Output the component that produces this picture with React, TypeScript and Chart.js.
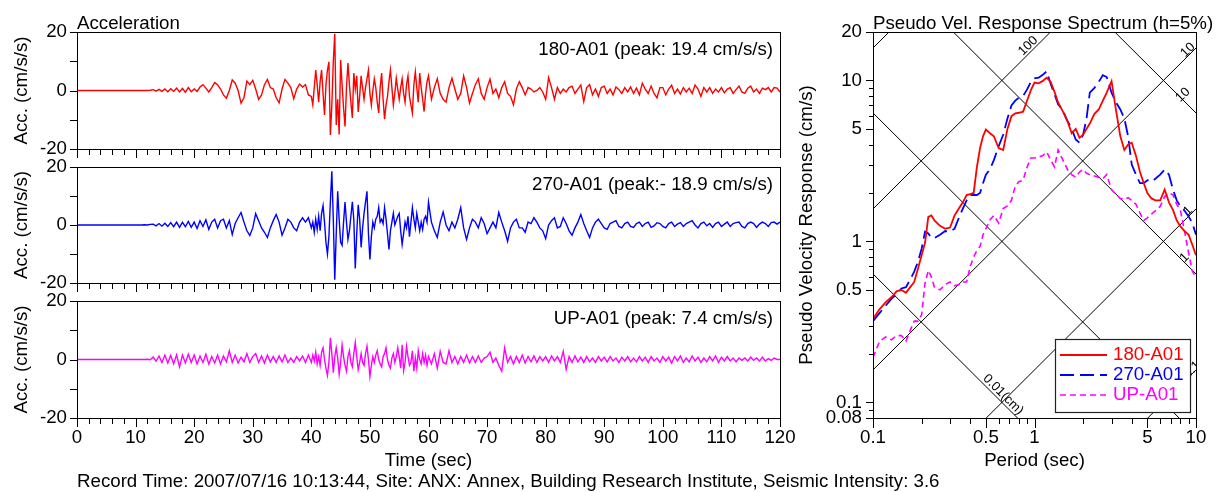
import React, { useEffect, useRef } from "react";
import { Chart, registerables } from "chart.js";

Chart.register(...registerables);

const W = 1225;
const H = 492;
const FAMILY = '"Liberation Sans", Arial, Helvetica, sans-serif';
const FS = 18.7;
const FONT = `${FS}px ${FAMILY}`;
const SMALL_FONT = `13px ${FAMILY}`;

// ---------------- Acceleration time histories ----------------
const TIME_MIN = 0;
const TIME_MAX = 120;
const TIME_LABEL_TICKS = [0, 10, 20, 30, 40, 50, 60, 70, 80, 90, 100, 110, 120];
const TIME_MINOR_STEP = 2;
const ACC_TICKS = [-20, -10, 0, 10, 20];
const ACC_LABELS = [-20, 0, 20];

// sampling segments (s)
const EARLY_START = 10, EARLY_STEP = 0.5;   // 10 - 39.5 s
const STRONG_START = 40, STRONG_STEP = 0.25; // 40 - 59.75 s
const LATE_START = 60, LATE_STEP = 0.5;     // 60 - 120 s

// 180-A01 (cm/s/s)
const acc180Early = [
  0, 0, 0, 0, 0, 0.1,
  0.3, -0.2, 0.4, -0.3, 0.5, -0.4, 0.6, -0.3, 0.8, -0.5, 0.7, -0.6, 1.0, -0.4,
  0.5, -0.3, 1.2, 2.0, 0.8, -0.5, 1.0, 2.7, 2.0, 0.5,
  -1.5, -2.6, 0.0, 3.6, 2.5, 0.0, -4.3, -2.5, 3.2, 2.0,
  3.5, 0.5, -3.0, -1.5, 2.0, 3.8, 1.0, 0.5, -2.5, -4.2,
  0.5, 3.8, 2.5, 1.0, -2.8, 0.5, 2.2, 1.2, 2.0, -1.5,
];
const acc180Strong = [
  -2.0, -4.9, 1.0, 7.0, 2.0, -4.0, 3.0, 7.0, -1.0, -8.4, 2.0, 7.0, 9.8, -15.2, -5.0, 10.0,
  19.4, -11.8, -3.0, -15.0, 10.4, 2.0, -6.0, -12.3, 1.0, 9.4, 2.0, -4.0, -9.4, 6.0, 0.5, 5.0,
  -7.3, -2.0, 5.0, 1.0, -3.0, 1.0, 4.0, 7.0, -1.0, -5.0, 0.0, 4.0, 1.0, -4.0, -7.7, 1.0,
  6.0, -3.0, -9.8, -5.0, -2.0, 3.0, 7.0, 1.0, -5.0, -1.0, 4.2, 0.5, -3.0, 1.0, 4.0, -1.0,
  -4.0, 2.0, 5.0, -2.0, -5.0, -7.7, 2.0, 6.4, 1.0, -4.0, 6.0, 1.0, -3.0, -7.2, -1.0, 3.0,
];
const acc180Late = [
  5.0, -3.0, 1.0, 4.0, -1.0, -3.0, -4.0, 1.0, 4.2, 0.5,
  -3.0, -1.0, 5.0, 1.0, -4.3, -1.0, 2.0, 4.0, -1.0, -3.0,
  1.0, 3.9, -1.0, 0.5, -2.5, 1.0, 3.0, -1.0, -2.0, -4.9,
  0.5, 3.0, 1.0, -1.5, 1.0, 0.5, -0.5, 0.0, 1.0, -0.5,
  -3.0, 4.4, 1.0, -3.0, 1.0, -1.0, 0.5, -0.5, 1.0, 1.5,
  -1.0, 0.5, 1.9, -3.8, 1.0, 2.0, -1.5, 0.5, -2.0, 1.0,
  1.5, -1.0, 0.5, -1.5, 1.2, 0.3, -1.0, 1.0, -0.5, 1.2,
  -1.0, 0.8, -1.5, 2.5, 0.5, -1.0, 1.5, -1.0, -2.5, 1.0,
  1.0, -1.5, 0.5, 1.8, -1.0, 0.5, -1.2, 1.0, -0.5, 0.8,
  -1.0, 1.9, 0.5, -2.0, 1.0, -0.5, 1.0, -1.0, 0.5, -0.5,
  1.0, -0.8, 0.5, 1.0, -1.0, 0.3, 1.5, -0.5, -1.0, 0.8,
  1.5, -0.5, 0.5, -1.0, 0.8, 0.3, 1.0, -0.5, 1.0, 0.8,
  -0.5,
];

// 270-A01 (cm/s/s)
const acc270Early = [
  0, 0, 0, 0.1, 0, 0.2,
  0.3, -0.3, 0.5, -0.4, 0.6, -0.5, 0.8, -0.6, 1.0, -0.8, 0.9, -0.6, 1.2, -0.8,
  1.0, -1.2, 1.5, -0.5, 1.8, -1.5, 1.0, 2.0, -1.0, 1.5,
  2.0, -1.0, 1.5, -3.3, 0.5, 2.5, 4.3, 1.0, -2.0, -3.6,
  -1.0, 3.9, 1.5, -1.0, -2.5, -4.3, -1.0, 1.5, 3.6, 1.0,
  -3.5, -1.0, 2.0, 1.0, -1.0, -2.0, 1.0, 2.5, 1.0, 2.5,
];
const acc270Strong = [
  -1.0, 1.0, -2.5, 2.0, -1.5, 3.0, -2.0, 4.0, 6.7, 1.0, -6.0, -10.0, -4.0, 8.0, 18.5, 2.0,
  -18.9, -3.0, 11.6, 2.0, -6.0, -7.0, 1.0, 7.9, 1.0, -5.0, -2.0, 3.0, 8.0, 2.0, -15.0, -3.0,
  7.0, 2.0, -7.7, -1.0, 4.0, 8.0, 11.6, -3.0, -11.9, -4.0, 1.0, -1.0, 2.0, 3.0, 6.0, 1.0,
  2.0, 0.5, 6.0, 2.0, -3.0, -8.4, -2.0, 1.0, 4.0, 0.0, 1.5, 3.0, 4.0, -2.0, -6.7, -3.0,
  1.0, -1.0, 3.0, -4.0, 1.0, 6.0, 2.0, -1.0, 4.0, 1.0, -2.0, 1.0, -1.5, 2.0, 3.0, 1.0,
];
const acc270Late = [
  7.9, 1.0, -2.0, -4.3, 1.0, 4.5, 0.0, -2.0, 1.0, -1.0,
  2.0, 6.0, -1.0, -5.0, -1.0, 2.0, 1.0, -1.0, 2.5, 0.5,
  -3.0, -1.0, 1.0, -1.0, 4.3, 1.0, -2.0, -5.6, -1.0, 1.0,
  2.0, -1.0, -1.0, -2.5, 1.0, 0.5, 2.5, 1.0, -1.0, -2.0,
  -4.7, 0.0, 1.5, 2.5, -1.0, -0.5, 2.5, 0.5, -2.0, -3.5,
  -1.0, 1.0, 3.6, 0.5, -2.0, -4.3, -1.0, 1.0, 2.0, 0.5,
  -1.0, -1.5, 0.5, 1.0, 1.5, -0.5, -1.0, 0.5, 1.0, -0.5,
  -0.8, 0.5, 1.0, -0.5, 0.5, 1.0, -0.8, -0.3, 0.8, 0.5,
  -0.5, -1.0, 0.5, 1.0, -0.5, 0.3, 0.8, -0.5, 0.5, 1.0,
  1.5, 0.0, -1.0, 0.5, 1.0, -0.3, 0.5, -0.8, 0.5, 1.0,
  -0.5, 0.3, 1.0, -0.5, 0.5, 0.8, 1.0, -0.5, -1.0, 0.5,
  1.0, 0.5, -0.8, 0.3, 1.0, 0.5, -0.5, 0.8, 1.0, 0.3,
  1.0,
];

// UP-A01 (cm/s/s)
const accUpEarly = [
  0, 0, 0, 0, 0.1, -0.1,
  0.8, -0.6, 1.2, -1.0, 1.5, -1.2, 1.4, -1.5, 1.6, -2.5, 1.5, -1.2, 1.8, -1.0,
  1.5, -1.5, 1.2, -1.0, 1.8, -1.6, 1.0, -1.2, 1.5, -1.5,
  1.2, -0.8, 3.0, -1.0, 1.5, -1.2, 0.8, -0.8, 2.0, -1.0,
  1.0, 2.0, -1.0, 1.2, -1.2, 1.5, -0.8, 1.0, -1.0, 1.2,
  -0.8, 1.5, -1.0, 0.5, -1.0, 1.0, -0.5, 1.2, -1.0, 1.5,
];
const accUpStrong = [
  -1.0, 1.5, -0.5, 2.5, -1.5, 1.0, -2.0, 2.5, 4.0, 0.0, -3.0, -5.4, -1.0, 7.4, 2.0, -4.5,
  1.0, 4.0, 0.5, -5.0, -1.0, 5.0, 1.0, -2.0, -4.0, 1.0, 3.0, -1.0, -2.5, 2.0, 5.8, 1.0,
  -3.5, -1.0, 2.0, -1.0, -2.0, 2.0, 4.5, 0.0, -5.8, -2.0, 1.0, -1.0, 1.5, 3.0, 0.0, -1.5,
  -2.5, 1.0, 2.0, 4.0, 0.0, -2.0, -3.0, 0.5, 2.0, -1.0, 1.0, 4.0, 1.0, -3.0, 5.0, -3.8,
  -1.0, 4.5, 1.0, -2.0, -1.0, 3.0, -4.0, 0.5, -3.0, 3.0, 0.0, -1.5, 2.0, -1.0, 1.5, -2.0,
];
const accUpLate = [
  1.0, -1.5, 2.0, -3.0, 2.8, -1.0, -1.5, 3.0, -1.0, 1.0,
  -1.5, 1.0, -1.0, 1.5, -1.2, 1.0, -1.0, 1.2, -1.0, 0.5,
  1.0, 2.5, -1.0, 0.5, -2.0, -4.0, 4.0, -1.0, 1.0, -1.5,
  1.0, -1.0, 1.5, -1.2, 1.0, -0.8, 1.2, -1.0, 1.0, -0.5,
  1.0, -1.0, 1.2, -0.5, 1.0, -1.0, 2.8, -3.4, 1.0, -1.0,
  1.2, -0.8, 0.8, -1.0, 1.0, -0.8, 0.5, -1.0, 1.0, -0.5,
  0.8, -0.8, 1.0, -0.5, 0.5, -1.0, 0.8, -0.5, 1.0, -0.8,
  0.5, -0.8, 1.0, -0.5, 0.8, -1.0, 1.0, -0.5, 0.5, -1.0,
  1.0, -0.5, 0.8, -1.2, 1.0, -0.5, 1.2, -1.0, 0.5, -0.8,
  1.2, -0.5, 0.8, -1.0, 0.5, -0.8, 1.0, -0.5, 1.2, -1.0,
  0.8, -0.5, 1.0, -0.5, 0.5, -0.8, 0.5, -0.3, 0.5, -0.5,
  0.8, -0.3, 0.5, -0.5, 0.8, -0.5, 0.3, -0.3, 0.5, 0.0,
  0.0,
];

// ---------------- Pseudo velocity response spectrum ----------------
const PERIODS = [
  0.1, 0.11, 0.12, 0.13, 0.14, 0.15, 0.16, 0.17, 0.18, 0.19,
  0.2, 0.21, 0.22, 0.23, 0.24, 0.26, 0.28, 0.3, 0.32, 0.34,
  0.36, 0.38, 0.4, 0.42, 0.44, 0.46, 0.48, 0.5, 0.53, 0.56,
  0.6, 0.64, 0.68, 0.72, 0.76, 0.8, 0.85, 0.9, 0.95, 1.0,
  1.06, 1.12, 1.19, 1.26, 1.33, 1.4, 1.5, 1.6, 1.7, 1.8,
  1.9, 2.0, 2.1, 2.2, 2.35, 2.5, 2.65, 2.8, 3.0, 3.2,
  3.4, 3.6, 3.8, 4.0, 4.25, 4.5, 4.75, 5.0, 5.3, 5.6,
  6.0, 6.4, 6.8, 7.2, 7.6, 8.0, 8.5, 9.0, 9.5, 10.0,
];
const SV_180 = [
  0.33, 0.38, 0.42, 0.45, 0.49, 0.50, 0.48, 0.52, 0.56, 0.68,
  0.82, 0.98, 1.42, 1.45, 1.35, 1.25, 1.20, 1.22, 1.45, 1.60,
  1.75, 1.94, 1.97, 2.00, 2.90, 3.80, 4.50, 4.95, 4.70, 4.50,
  3.80, 3.70, 5.00, 6.00, 6.25, 6.30, 6.40, 7.50, 8.70, 9.70,
  9.60, 9.90, 10.4, 9.80, 8.50, 7.30, 6.40, 5.60, 4.70, 5.00,
  4.40, 4.60, 5.00, 5.40, 6.20, 6.60, 7.50, 8.40, 9.90, 6.50,
  4.50, 3.70, 4.00, 4.10, 3.40, 2.70, 2.30, 2.00, 1.85, 1.80,
  1.80, 2.10, 1.75, 1.57, 1.35, 1.24, 1.16, 1.10, 0.95, 0.82,
];
const SV_270 = [
  0.32, 0.36, 0.40, 0.44, 0.47, 0.51, 0.52, 0.58, 0.65, 0.75,
  0.90, 1.15, 1.12, 1.05, 1.05, 1.10, 1.16, 1.15, 1.20, 1.40,
  1.60, 1.80, 1.94, 1.95, 1.94, 2.00, 2.30, 2.60, 2.80, 3.20,
  3.90, 4.60, 5.80, 7.00, 7.50, 7.80, 8.00, 8.80, 9.80, 10.3,
  10.4, 10.8, 11.4, 9.50, 8.20, 7.10, 6.50, 5.60, 5.00, 4.30,
  4.10, 4.60, 5.80, 8.40, 9.00, 9.80, 10.8, 10.5, 8.40, 7.30,
  6.60, 5.80, 4.50, 3.00, 2.60, 2.30, 2.30, 2.40, 2.35, 2.45,
  2.60, 2.80, 2.60, 2.10, 1.80, 1.65, 1.55, 1.43, 1.30, 1.10,
];
const SV_UP = [
  0.19, 0.24, 0.255, 0.245, 0.26, 0.26, 0.24, 0.28, 0.32, 0.32,
  0.35, 0.55, 0.66, 0.60, 0.52, 0.50, 0.54, 0.56, 0.53, 0.54,
  0.56, 0.56, 0.70, 0.80, 0.88, 0.93, 1.10, 1.20, 1.36, 1.45,
  1.30, 1.60, 1.66, 1.80, 2.20, 2.35, 2.40, 2.90, 3.30, 3.30,
  3.35, 3.40, 3.60, 3.20, 2.90, 3.70, 3.20, 2.80, 2.60, 2.50,
  2.70, 2.80, 2.65, 2.60, 2.55, 2.50, 2.45, 2.60, 2.10, 1.96,
  1.85, 1.82, 1.87, 1.80, 1.70, 1.50, 1.35, 1.40, 1.48, 1.55,
  1.65, 1.90, 2.00, 1.95, 1.70, 1.57, 1.15, 0.85, 0.65, 0.60,
];
const PERIOD_LABELS = [0.1, 0.5, 1, 5, 10];
const PERIOD_MINOR = [0.2, 0.3, 0.4, 0.6, 0.7, 0.8, 0.9, 2, 3, 4, 6, 7, 8, 9];
const SV_LABELS = [0.08, 0.1, 0.5, 1, 5, 10, 20];
const SV_MINOR = [0.09, 0.2, 0.3, 0.4, 0.6, 0.7, 0.8, 0.9, 2, 3, 4, 6, 7, 8, 9];
const DISP_LINES = [0.001, 0.01, 0.1, 1, 10, 100]; // cm
const ACC_LINES = [0.1, 1, 10, 100, 1000, 10000]; // cm/s/s

const SERIES = [
  { name: "180-A01", color: "#ff0000", dash: [] as number[], width: 1.8, values: SV_180 },
  { name: "270-A01", color: "#0000ff", dash: [14, 6], width: 1.8, values: SV_270 },
  { name: "UP-A01", color: "#ff00ff", dash: [6, 4], width: 1.6, values: SV_UP },
];

// labels on tripartite lines: kind, level, period on line, rotation, pixel shift
const LINE_LABELS = [
  { text: "100", kind: "acc", level: 100, T: 0.912, rot: -45, dx: 0, dy: -8.5 },
  { text: "10", kind: "acc", level: 10, T: 8.91, rot: -45, dx: 0, dy: -6 },
  { text: "1", kind: "acc", level: 1, T: 8.91, rot: -45, dx: 0, dy: -6 },
  { text: "0.1", kind: "acc", level: 0.1, T: 9.47, rot: -45, dx: 0, dy: -4 },
  { text: "10", kind: "disp", level: 10, T: 8.3, rot: -45, dx: 0, dy: -5 },
  { text: "1", kind: "disp", level: 1, T: 8.5, rot: -45, dx: 0, dy: -5 },
  { text: "0.01(cm)", kind: "disp", level: 0.01, T: 0.64, rot: 45, dx: 0, dy: -9 },
];

function buildTrace(early: number[], strong: number[], late: number[]) {
  const pts: { x: number; y: number }[] = [{ x: TIME_MIN, y: 0 }];
  early.forEach((v, i) => pts.push({ x: EARLY_START + i * EARLY_STEP, y: v }));
  strong.forEach((v, i) => pts.push({ x: STRONG_START + i * STRONG_STEP, y: v }));
  late.forEach((v, i) => pts.push({ x: LATE_START + i * LATE_STEP, y: v }));
  return pts;
}

const PANELS = [
  { label: "180-A01 (peak: 19.4 cm/s/s)", color: "#ff0000", top: 32, bottom: 149, showTime: false, first: true, data: buildTrace(acc180Early, acc180Strong, acc180Late) },
  { label: "270-A01 (peak:- 18.9 cm/s/s)", color: "#0000ff", top: 167, bottom: 283, showTime: false, first: false, data: buildTrace(acc270Early, acc270Strong, acc270Late) },
  { label: "UP-A01 (peak: 7.4 cm/s/s)", color: "#ff00ff", top: 301, bottom: 418, showTime: true, first: false, data: buildTrace(accUpEarly, accUpStrong, accUpLate) },
];

const TIME_RIGHT = 780;
const SPEC_LEFT = 873;
const SPEC_RIGHT = 1196;
const SPEC_TOP = 32;
const SPEC_BOTTOM = 418;
const XAXIS_H = 30;

function text(ctx: CanvasRenderingContext2D, s: string, x: number, y: number, opts: any = {}) {
  ctx.save();
  ctx.font = opts.font || FONT;
  ctx.fillStyle = opts.color || "#000";
  ctx.textAlign = opts.align || "left";
  ctx.textBaseline = opts.baseline || "alphabetic";
  ctx.translate(x, y);
  if (opts.rot) ctx.rotate((opts.rot * Math.PI) / 180);
  ctx.fillText(s, 0, 0);
  ctx.restore();
}

function vTick(ctx: CanvasRenderingContext2D, px: number, y0: number, len: number) {
  ctx.fillRect(Math.round(px), Math.round(y0), 1, Math.round(len));
}
function hTick(ctx: CanvasRenderingContext2D, py: number, x0: number, len: number) {
  ctx.fillRect(Math.round(x0 - len), Math.round(py), Math.round(len), 1);
}

function timePanelPlugin(p: any) {
  return {
    id: "timePanelDecor",
    afterDraw(chart: any) {
      const { ctx, chartArea: a, scales } = chart;
      const xs = scales.x;
      const ys = scales.y;
      ctx.save();
      ctx.strokeStyle = "#000";
      ctx.lineWidth = 1;
      ctx.strokeRect(a.left + 0.5, a.top + 0.5, a.right - a.left, a.bottom - a.top);
      ctx.fillStyle = "#000";
      for (let t = TIME_MIN; t <= TIME_MAX; t += TIME_MINOR_STEP) {
        const len = t % 10 === 0 ? 8 : 5;
        vTick(ctx, xs.getPixelForValue(t), a.bottom + 1, len);
      }
      for (const v of ACC_TICKS) {
        hTick(ctx, ys.getPixelForValue(v), a.left, 7);
      }
      ctx.restore();

      text(ctx, p.label, a.right - 7, a.top + 23, { align: "right" });
      text(ctx, "Acc. (cm/s/s)", 22, (a.top + a.bottom) / 2, { rot: -90, align: "center", baseline: "middle" });
      if (p.first) text(ctx, "Acceleration", a.left, 29);
      if (p.showTime) {
        text(ctx, "Time (sec)", (a.left + a.right) / 2, 466, { align: "center" });
        text(ctx, "Record Time: 2007/07/16 10:13:44, Site: ANX: Annex, Building Research Institute, Seismic Intensity: 3.6", a.left, 487);
      }
    },
  };
}

function makeTimeChart(canvas: HTMLCanvasElement, p: any) {
  return new Chart(canvas, {
    type: "line",
    data: {
      datasets: [
        {
          data: p.data,
          borderColor: p.color,
          borderWidth: 1.4,
          pointRadius: 0,
          tension: 0,
          fill: false,
        },
      ],
    },
    options: {
      responsive: false,
      animation: false,
      devicePixelRatio: 1,
      events: [],
      layout: { padding: { left: 0, right: W - TIME_RIGHT, top: p.top, bottom: H - p.bottom - XAXIS_H } },
      plugins: { legend: { display: false }, tooltip: { enabled: false }, title: { display: false } },
      scales: {
        x: {
          type: "linear",
          min: TIME_MIN,
          max: TIME_MAX,
          bounds: "data",
          afterBuildTicks: (s: any) => {
            s.ticks = TIME_LABEL_TICKS.map((v) => ({ value: v }));
          },
          afterFit: (s: any) => {
            s.height = XAXIS_H;
          },
          grid: { display: false, drawTicks: true, tickLength: 6 },
          border: { display: false },
          ticks: {
            display: p.showTime,
            autoSkip: false,
            maxRotation: 0,
            minRotation: 0,
            padding: 3,
            color: "#000",
            font: { family: FAMILY, size: FS },
            callback: (v: any) => String(v),
          },
        },
        y: {
          type: "linear",
          min: -20,
          max: 20,
          bounds: "data",
          afterBuildTicks: (s: any) => {
            s.ticks = ACC_TICKS.map((v) => ({ value: v }));
          },
          afterFit: (s: any) => {
            s.width = 77;
          },
          grid: { display: false, drawTicks: true, tickLength: 6 },
          border: { display: false },
          ticks: {
            autoSkip: false,
            padding: 4,
            color: "#000",
            font: { family: FAMILY, size: FS },
            callback: (v: any) => (ACC_LABELS.includes(v) ? String(v) : ""),
          },
        },
      },
    } as any,
    plugins: [timePanelPlugin(p)],
  });
}

const spectrumPlugin = {
  id: "spectrumDecor",
  beforeDatasetsDraw(chart: any) {
    const { ctx, chartArea: a, scales } = chart;
    const xs = scales.x;
    const ys = scales.y;
    const T0 = 0.1;
    const T1 = 10;
    ctx.save();
    ctx.beginPath();
    ctx.rect(a.left, a.top, a.right - a.left, a.bottom - a.top);
    ctx.clip();
    ctx.strokeStyle = "#000";
    ctx.lineWidth = 1;
    ctx.beginPath();
    for (const d of DISP_LINES) {
      ctx.moveTo(xs.getPixelForValue(T0), ys.getPixelForValue((2 * Math.PI * d) / T0));
      ctx.lineTo(xs.getPixelForValue(T1), ys.getPixelForValue((2 * Math.PI * d) / T1));
    }
    for (const A of ACC_LINES) {
      ctx.moveTo(xs.getPixelForValue(T0), ys.getPixelForValue((A * T0) / (2 * Math.PI)));
      ctx.lineTo(xs.getPixelForValue(T1), ys.getPixelForValue((A * T1) / (2 * Math.PI)));
    }
    ctx.stroke();
    for (const l of LINE_LABELS) {
      const sv = l.kind === "acc" ? (l.level * l.T) / (2 * Math.PI) : (2 * Math.PI * l.level) / l.T;
      const px = xs.getPixelForValue(l.T) + l.dx;
      const py = ys.getPixelForValue(sv) + l.dy;
      text(ctx, l.text, px, py, { font: SMALL_FONT, rot: l.rot, align: "center", baseline: "middle" });
    }
    ctx.restore();
  },
  afterDraw(chart: any) {
    const { ctx, chartArea: a, scales } = chart;
    const xs = scales.x;
    const ys = scales.y;
    ctx.save();
    ctx.strokeStyle = "#000";
    ctx.lineWidth = 1;
    ctx.strokeRect(a.left + 0.5, a.top + 0.5, a.right - a.left, a.bottom - a.top);
    ctx.fillStyle = "#000";
    for (const v of PERIOD_LABELS.concat(PERIOD_MINOR)) {
      const len = PERIOD_LABELS.includes(v) ? 9 : 5;
      vTick(ctx, xs.getPixelForValue(v), a.bottom + 1, len);
    }
    for (const v of SV_LABELS.concat(SV_MINOR)) {
      const len = SV_LABELS.includes(v) ? 7 : 4;
      hTick(ctx, ys.getPixelForValue(v), a.left, len);
    }

    // legend
    const lw = 135;
    const lh = 73;
    const lx = a.right - 6 - lw;
    const ly = a.bottom - 6 - lh;
    ctx.fillStyle = "#fff";
    ctx.fillRect(lx, ly, lw, lh);
    ctx.strokeStyle = "#222";
    ctx.lineWidth = 1.2;
    ctx.strokeRect(lx + 0.5, ly + 0.5, lw, lh);
    SERIES.forEach((s, i) => {
      const yy = ly + 16 + i * 20;
      ctx.save();
      ctx.strokeStyle = s.color;
      ctx.lineWidth = s.width;
      ctx.setLineDash(s.dash);
      ctx.beginPath();
      ctx.moveTo(lx + 5, yy);
      ctx.lineTo(lx + 52, yy);
      ctx.stroke();
      ctx.restore();
      text(ctx, s.name, lx + 58, yy, { color: s.color, baseline: "middle" });
    });
    ctx.restore();

    text(ctx, "Pseudo Vel. Response Spectrum (h=5%)", a.left, 29);
    text(ctx, "Pseudo Velocity Response (cm/s)", 807, (a.top + a.bottom) / 2, { rot: -90, align: "center", baseline: "middle" });
    text(ctx, "Period (sec)", (a.left + a.right) / 2, 466, { align: "center" });
  },
};

function makeSpectrum(canvas: HTMLCanvasElement) {
  return new Chart(canvas, {
    type: "line",
    data: {
      datasets: SERIES.map((s) => ({
        label: s.name,
        data: PERIODS.map((t, i) => ({ x: t, y: s.values[i] })),
        borderColor: s.color,
        borderWidth: s.width,
        borderDash: s.dash,
        pointRadius: 0,
        tension: 0,
        fill: false,
      })),
    },
    options: {
      responsive: false,
      animation: false,
      devicePixelRatio: 1,
      events: [],
      layout: { padding: { left: SPEC_LEFT - 80, right: W - SPEC_RIGHT, top: SPEC_TOP, bottom: H - SPEC_BOTTOM - XAXIS_H } },
      plugins: { legend: { display: false }, tooltip: { enabled: false }, title: { display: false } },
      scales: {
        x: {
          type: "logarithmic",
          min: 0.1,
          max: 10,
          bounds: "data",
          afterBuildTicks: (s: any) => {
            s.ticks = PERIOD_LABELS.map((v) => ({ value: v }));
          },
          afterFit: (s: any) => {
            s.height = XAXIS_H;
          },
          grid: { display: false, drawTicks: true, tickLength: 6 },
          border: { display: false },
          ticks: {
            autoSkip: false,
            maxRotation: 0,
            minRotation: 0,
            padding: 3,
            color: "#000",
            font: { family: FAMILY, size: FS },
            callback: (v: any) => String(v),
          },
        },
        y: {
          type: "logarithmic",
          min: 0.08,
          max: 20,
          bounds: "data",
          afterBuildTicks: (s: any) => {
            s.ticks = SV_LABELS.map((v) => ({ value: v }));
          },
          afterFit: (s: any) => {
            s.width = 80;
          },
          grid: { display: false, drawTicks: true, tickLength: 6 },
          border: { display: false },
          ticks: {
            autoSkip: false,
            padding: 5,
            color: "#000",
            font: { family: FAMILY, size: FS },
            callback: (v: any) => String(v),
          },
        },
      },
    } as any,
    plugins: [spectrumPlugin],
  });
}

export default function App() {
  const r0 = useRef<HTMLCanvasElement>(null);
  const r1 = useRef<HTMLCanvasElement>(null);
  const r2 = useRef<HTMLCanvasElement>(null);
  const r3 = useRef<HTMLCanvasElement>(null);

  useEffect(() => {
    const refs = [r0, r1, r2];
    const charts: Chart[] = [];
    PANELS.forEach((p, i) => {
      if (refs[i].current) charts.push(makeTimeChart(refs[i].current as HTMLCanvasElement, p));
    });
    if (r3.current) charts.push(makeSpectrum(r3.current));
    return () => charts.forEach((c) => c.destroy());
  }, []);

  const cs: React.CSSProperties = { position: "absolute", left: 0, top: 0, width: W, height: H };
  return (
    <div style={{ position: "fixed", left: 0, top: 0, width: W, height: H, background: "#fff", overflow: "hidden" }}>
      <canvas ref={r0} width={W} height={H} style={cs} />
      <canvas ref={r1} width={W} height={H} style={cs} />
      <canvas ref={r2} width={W} height={H} style={cs} />
      <canvas ref={r3} width={W} height={H} style={cs} />
    </div>
  );
}
